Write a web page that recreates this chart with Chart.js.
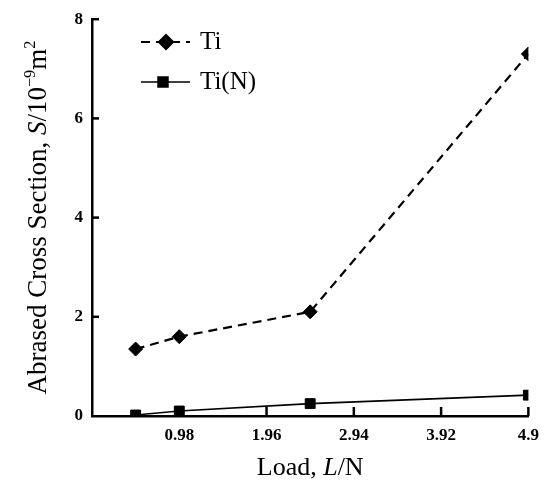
<!DOCTYPE html>
<html><head><meta charset="utf-8">
<script src="https://cdn.jsdelivr.net/npm/chart.js@4.4.0/dist/chart.umd.min.js"></script>
<style>html,body{margin:0;padding:0;background:#fff}#wrap{width:548px;height:490px;position:relative}</style>
</head><body><div id="wrap"><canvas id="c" width="548" height="490" style="width:548px;height:490px"></canvas></div>
<script>
const loads = [0.49, 0.98, 2.45, 4.9];
const tiValues = [1.35, 1.6, 2.1, 7.3];
const tiNValues = [0.02, 0.1, 0.25, 0.42];
const xTickValues = [0.98, 1.96, 2.94, 3.92, 4.9];
const yTickValues = [0, 2, 4, 6, 8];
const seriesNames = ['Ti', 'Ti(N)'];
const yTitleParts = [
  {t: 'Abrased Cross Section, '}, {t: 'S', i: true}, {t: '/10'}, {t: '\u22129', s: true}, {t: 'm'}, {t: '2', s: true}
];
const xTitleParts = [{t: 'Load, '}, {t: 'L', i: true}, {t: '/N'}];

const FAM = '"Liberation Serif", "Times New Roman", serif';

function drawParts(ctx, parts, size) {
  const widths = parts.map(p => {
    ctx.font = (p.i ? 'italic ' : '') + (p.s ? size * 0.6 : size) + 'px ' + FAM;
    return ctx.measureText(p.t).width;
  });
  const total = widths.reduce((a, b) => a + b, 0);
  let x = -total / 2;
  ctx.textBaseline = 'alphabetic';
  ctx.textAlign = 'left';
  parts.forEach((p, k) => {
    ctx.font = (p.i ? 'italic ' : '') + (p.s ? size * 0.6 : size) + 'px ' + FAM;
    ctx.fillText(p.t, x, p.s ? size * 0.35 - size * 0.42 : size * 0.35);
    x += widths[k];
  });
}

const decorPlugin = {
  id: 'decor',
  afterDraw(chart) {
    const ctx = chart.ctx;
    const xs = chart.scales.x, ys = chart.scales.y;
    const area = chart.chartArea;
    ctx.save();
    ctx.strokeStyle = '#000';
    ctx.fillStyle = '#000';
    ctx.lineWidth = 2.5;
    xTickValues.forEach(v => {
      const px = xs.getPixelForValue(v);
      ctx.beginPath(); ctx.moveTo(px, area.bottom); ctx.lineTo(px, area.bottom - 9); ctx.stroke();
    });
    yTickValues.forEach(v => {
      if (v === 0) return;
      const py = ys.getPixelForValue(v);
      ctx.beginPath(); ctx.moveTo(area.left, py); ctx.lineTo(area.left + 7, py); ctx.stroke();
    });
    ctx.save();
    ctx.translate(37, (area.top + area.bottom) / 2);
    ctx.rotate(-Math.PI / 2);
    drawParts(ctx, yTitleParts, 27);
    ctx.restore();
    ctx.save();
    ctx.translate((area.left + area.right) / 2, 466);
    drawParts(ctx, xTitleParts, 26);
    ctx.restore();
    const rows = [42, 82];
    chart.data.datasets.forEach((ds, k) => {
      const y = rows[k];
      ctx.save();
      ctx.lineWidth = ds.borderWidth;
      ctx.setLineDash(ds.borderDash || []);
      ctx.beginPath(); ctx.moveTo(141, y); ctx.lineTo(190, y); ctx.stroke();
      ctx.setLineDash([]);
      ctx.fillStyle = '#000';
      Chart.helpers.drawPoint(ctx, {pointStyle: ds.pointStyle, radius: ds.pointRadius, rotation: 0, borderWidth: 1}, k === 0 ? 166 : 163, y);
      ctx.font = '25px ' + FAM;
      ctx.textBaseline = 'middle';
      ctx.textAlign = 'left';
      ctx.fillText(ds.label, 200, y);
      ctx.restore();
    });
    ctx.restore();
  }
};

const toPts = (xsArr, ysArr) => xsArr.map((x, i) => ({x: x, y: ysArr[i]}));

new Chart(document.getElementById('c'), {
  type: 'line',
  data: {
    datasets: [
      {label: seriesNames[0], data: toPts(loads, tiValues), borderColor: '#000', backgroundColor: '#000',
       borderWidth: 2.2, borderDash: [9, 6], pointStyle: 'rectRot', pointRadius: 7, pointBorderWidth: 1, tension: 0},
      {label: seriesNames[1], data: toPts(loads, tiNValues), borderColor: '#000', backgroundColor: '#000',
       borderWidth: 1.6, pointStyle: 'rect', pointRadius: 7, pointBorderWidth: 1, tension: 0}
    ]
  },
  options: {
    responsive: false,
    animation: false,
    devicePixelRatio: 1,
    layout: {padding: {top: 12, right: 19, left: 0, bottom: 0}},
    plugins: {legend: {display: false}, tooltip: {enabled: false}},
    scales: {
      x: {
        type: 'linear', min: 0, max: 4.9,
        afterBuildTicks(s) { s.ticks = xTickValues.map(v => ({value: v})); },
        afterFit(s) { s.height = 74; },
        grid: {display: false, drawTicks: false},
        border: {display: true, color: '#000', width: 2.5},
        ticks: {padding: 9, color: '#000', font: {family: FAM, size: 17, weight: 'bold'}, maxRotation: 0,
          callback: v => String(v)}
      },
      y: {
        type: 'linear', min: 0, max: 8,
        afterBuildTicks(s) { s.ticks = yTickValues.map(v => ({value: v})); },
        afterFit(s) { s.width = 92; },
        grid: {display: false, drawTicks: false},
        border: {display: true, color: '#000', width: 2.5},
        ticks: {padding: 9, color: '#000', font: {family: FAM, size: 17, weight: 'bold'}}
      }
    }
  },
  plugins: [decorPlugin]
});
</script>
</body></html>
